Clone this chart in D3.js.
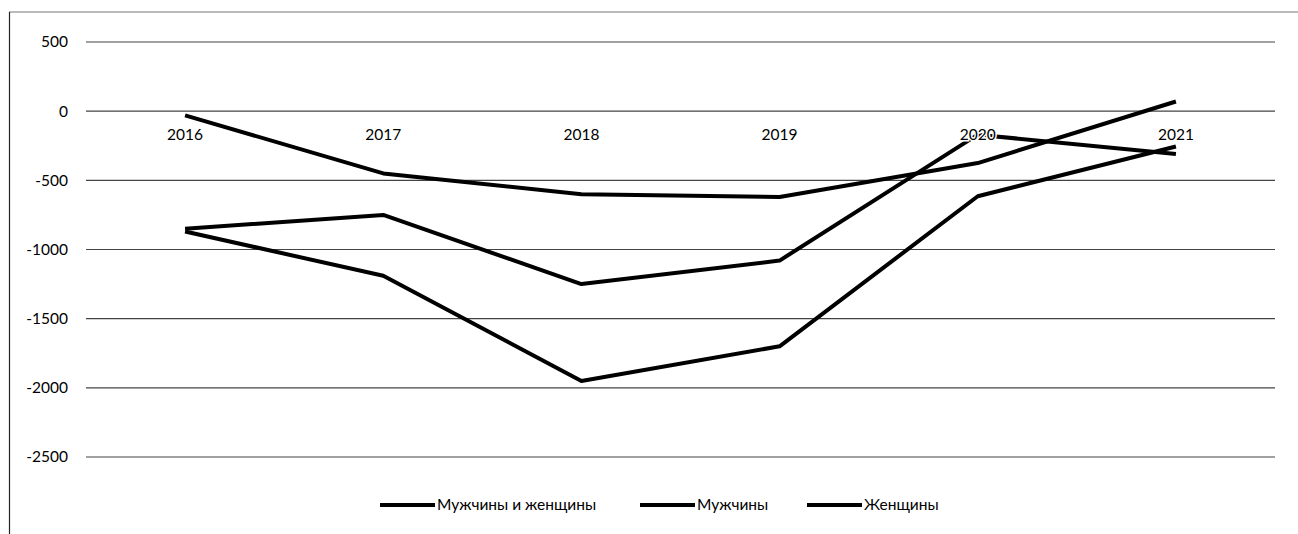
<!DOCTYPE html>
<html>
<head>
<meta charset="utf-8">
<script src="https://cdn.jsdelivr.net/npm/d3@7"></script>
<style>
  body { margin: 0; background: #fff; }
  text { font-family: Lato, "Open Sans", sans-serif; fill: #000; }
</style>
</head>
<body>
<div id="chart"></div>
<script>
const width = 1298;
const height = 534;

const years = ["2016", "2017", "2018", "2019", "2020", "2021"];
const yTicks = [500, 0, -500, -1000, -1500, -2000, -2500];

const total = [-870, -1190, -1950, -1700, -615, -255];
const men   = [-850, -750, -1250, -1080, -170, -310];
const women = [-30, -450, -600, -620, -375, 70];

const seriesNames = ["Мужчины и женщины", "Мужчины", "Женщины"];
const seriesValues = [total, men, women];

const svg = d3.select("#chart")
  .append("svg")
  .attr("width", width)
  .attr("height", height);

// рамка (как на скане: левая и верхняя линии)
svg.append("line")
  .attr("x1", 9).attr("x2", width)
  .attr("y1", 12).attr("y2", 12)
  .attr("stroke", "#777")
  .attr("stroke-width", 1);
svg.append("line")
  .attr("x1", 9.5).attr("x2", 9.5)
  .attr("y1", 12).attr("y2", height)
  .attr("stroke", "#222")
  .attr("stroke-width", 1.2);

const x = d3.scaleBand()
  .domain(years)
  .range([86, 1275]);

const y = d3.scaleLinear()
  .domain([-2500, 500])
  .range([457, 42]);

// сетка
svg.append("g")
  .selectAll("line")
  .data(yTicks)
  .enter()
  .append("line")
  .attr("x1", 86)
  .attr("x2", 1275)
  .attr("y1", d => y(d))
  .attr("y2", d => y(d))
  .attr("stroke", "#444")
  .attr("stroke-width", 1.2);

// подписи оси Y
svg.append("g")
  .selectAll("text")
  .data(yTicks)
  .enter()
  .append("text")
  .attr("x", 68)
  .attr("y", d => y(d))
  .attr("dy", "0.35em")
  .attr("text-anchor", "end")
  .style("font-size", "15.5px")
  .text(d => d);

const line = d3.line()
  .x((d, i) => x(years[i]) + x.bandwidth() / 2)
  .y(d => y(d));

svg.append("g")
  .selectAll("path")
  .data(seriesValues)
  .enter()
  .append("path")
  .attr("d", d => line(d))
  .attr("fill", "none")
  .attr("stroke", "#000")
  .attr("stroke-width", 4)
  .attr("stroke-linejoin", "round");

// подписи категорий у нулевой линии
svg.append("g")
  .selectAll("text")
  .data(years)
  .enter()
  .append("text")
  .attr("x", d => x(d) + x.bandwidth() / 2)
  .attr("y", y(0) + 29)
  .attr("text-anchor", "middle")
  .style("font-size", "15.5px")
  .style("paint-order", "stroke")
  .style("stroke", "#fff")
  .style("stroke-width", "3px")
  .text(d => d);

// легенда
const legendX = [380, 640, 807];
const legend = svg.append("g");
seriesNames.forEach((name, i) => {
  const g = legend.append("g")
    .attr("transform", `translate(${legendX[i]}, 505)`);
  g.append("line")
    .attr("x1", 0).attr("x2", 55)
    .attr("y1", 0).attr("y2", 0)
    .attr("stroke", "#000")
    .attr("stroke-width", 4);
  g.append("text")
    .attr("x", 57)
    .attr("y", 0)
    .attr("dy", "0.35em")
    .style("font-size", "15.5px")
    .text(name);
});
</script>
</body>
</html>
